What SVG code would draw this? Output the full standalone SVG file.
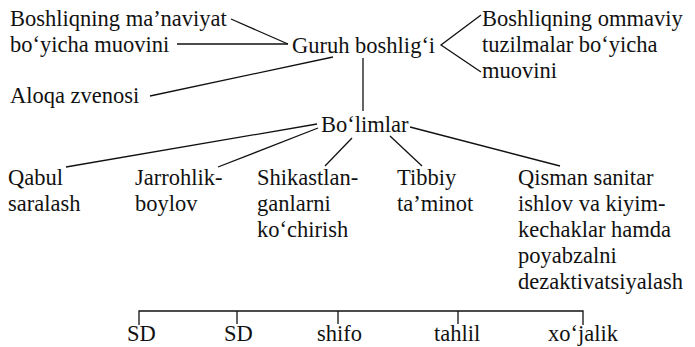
<svg xmlns="http://www.w3.org/2000/svg" width="695" height="347" viewBox="0 0 695 347">
<style>
text{font-family:"Liberation Serif","Times New Roman",serif;font-size:22.5px;fill:#111}
.c line,.c polyline{stroke:#111;stroke-width:1.3;fill:none}
</style>
<rect width="695" height="347" fill="#fff"/>
<g class="c" id="connectors">
<line x1="231" y1="19" x2="288" y2="44"/>
<line x1="177" y1="44" x2="288" y2="44"/>
<line x1="150" y1="96" x2="333" y2="57"/>
<line x1="363" y1="58" x2="363" y2="111"/>
<polyline points="481,15 441,45 481,72"/>
<line x1="317" y1="124" x2="66" y2="167"/>
<line x1="318" y1="128" x2="218" y2="167"/>
<line x1="352" y1="138" x2="325" y2="166"/>
<line x1="390" y1="136" x2="422" y2="166"/>
<line x1="410" y1="127" x2="560" y2="166"/>
<polyline points="139,325 139,311 583,311 583,325"/>
<line x1="237" y1="311" x2="237" y2="324"/>
<line x1="338" y1="311" x2="338" y2="324"/>
<line x1="458" y1="311" x2="458" y2="324"/>
</g>
<g id="n-manaviyat"><text x="10" y="26">Boshliqning ma’naviyat</text><text x="10" y="52">bo‘yicha muovini</text></g>
<g id="n-guruh"><text x="292" y="53">Guruh boshlig‘i</text></g>
<g id="n-ommaviy"><text x="482" y="26">Boshliqning ommaviy</text><text x="482" y="52">tuzilmalar bo‘yicha</text><text x="482" y="78">muovini</text></g>
<g id="n-aloqa"><text x="10" y="103">Aloqa zvenosi</text></g>
<g id="n-bolimlar"><text x="321" y="132">Bo‘limlar</text></g>
<g id="n-qabul"><text x="8" y="185">Qabul</text><text x="8" y="211">saralash</text></g>
<g id="n-jarrohlik"><text x="135" y="185">Jarrohlik-</text><text x="135" y="211">boylov</text></g>
<g id="n-shikast"><text x="257" y="185">Shikastlan-</text><text x="257" y="211">ganlarni</text><text x="257" y="237">ko‘chirish</text></g>
<g id="n-tibbiy"><text x="397" y="185">Tibbiy</text><text x="397" y="211">ta’minot</text></g>
<g id="n-qisman"><text x="518" y="185">Qisman sanitar</text><text x="518" y="211">ishlov va kiyim-</text><text x="518" y="237">kechaklar hamda</text><text x="518" y="263">poyabzalni</text><text x="518" y="289">dezaktivatsiyalash</text></g>
<g id="n-sd1"><text x="127" y="341">SD</text></g>
<g id="n-sd2"><text x="224" y="341">SD</text></g>
<g id="n-shifo"><text x="317" y="341">shifo</text></g>
<g id="n-tahlil"><text x="434" y="341">tahlil</text></g>
<g id="n-xojalik"><text x="548" y="341">xo‘jalik</text></g>
</svg>
